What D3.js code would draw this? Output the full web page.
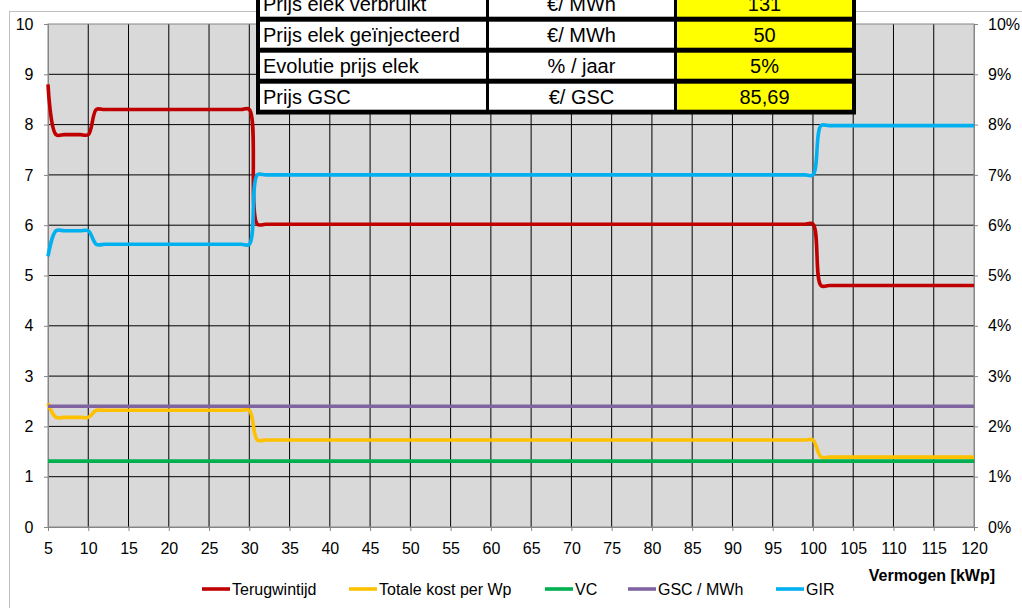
<!DOCTYPE html>
<html><head><meta charset="utf-8">
<script src="https://cdn.jsdelivr.net/npm/d3@7"></script>
<style>
html,body{margin:0;padding:0;background:#fff;overflow:hidden;}
svg{display:block;font-family:"Liberation Sans",Arial,sans-serif;}
</style></head><body>
<svg id="chart" width="1022" height="608"></svg>
<script>
// ---------- DATA ----------
const kWp = [5,
  6,7,8,9,10,
  11,12,13,14,15,16,17,18,19,20,21,22,23,24,25,26,27,28,29,30,
  31,32,33,34,35,36,37,38,39,40,41,42,43,44,45,46,47,48,49,50,
  51,52,53,54,55,56,57,58,59,60,61,62,63,64,65,66,67,68,69,70,
  71,72,73,74,75,76,77,78,79,80,81,82,83,84,85,86,87,88,89,90,
  91,92,93,94,95,96,97,98,99,100,
  101,102,103,104,105,106,107,108,109,110,111,112,113,114,115,116,117,118,119,120];

const terugwintijd = [8.8,
  7.8,7.8,7.8,7.8,7.8,
  8.3,8.3,8.3,8.3,8.3,8.3,8.3,8.3,8.3,8.3,8.3,8.3,8.3,8.3,8.3,8.3,8.3,8.3,8.3,8.3,
  6.02,6.02,6.02,6.02,6.02,6.02,6.02,6.02,6.02,6.02,6.02,6.02,6.02,6.02,6.02,6.02,6.02,6.02,6.02,6.02,
  6.02,6.02,6.02,6.02,6.02,6.02,6.02,6.02,6.02,6.02,6.02,6.02,6.02,6.02,6.02,6.02,6.02,6.02,6.02,6.02,
  6.02,6.02,6.02,6.02,6.02,6.02,6.02,6.02,6.02,6.02,6.02,6.02,6.02,6.02,6.02,6.02,6.02,6.02,6.02,6.02,
  6.02,6.02,6.02,6.02,6.02,6.02,6.02,6.02,6.02,6.02,
  4.8,4.8,4.8,4.8,4.8,4.8,4.8,4.8,4.8,4.8,4.8,4.8,4.8,4.8,4.8,4.8,4.8,4.8,4.8,4.8];

const totaleKost = [2.46,
  2.18,2.18,2.18,2.18,2.18,
  2.32,2.32,2.32,2.32,2.32,2.32,2.32,2.32,2.32,2.32,2.32,2.32,2.32,2.32,2.32,2.32,2.32,2.32,2.32,2.32,
  1.73,1.73,1.73,1.73,1.73,1.73,1.73,1.73,1.73,1.73,1.73,1.73,1.73,1.73,1.73,1.73,1.73,1.73,1.73,1.73,
  1.73,1.73,1.73,1.73,1.73,1.73,1.73,1.73,1.73,1.73,1.73,1.73,1.73,1.73,1.73,1.73,1.73,1.73,1.73,1.73,
  1.73,1.73,1.73,1.73,1.73,1.73,1.73,1.73,1.73,1.73,1.73,1.73,1.73,1.73,1.73,1.73,1.73,1.73,1.73,1.73,
  1.73,1.73,1.73,1.73,1.73,1.73,1.73,1.73,1.73,1.73,
  1.39,1.39,1.39,1.39,1.39,1.39,1.39,1.39,1.39,1.39,1.39,1.39,1.39,1.39,1.39,1.39,1.39,1.39,1.39,1.39];

const vc = [1.31,
  1.31,1.31,1.31,1.31,1.31,
  1.31,1.31,1.31,1.31,1.31,1.31,1.31,1.31,1.31,1.31,1.31,1.31,1.31,1.31,1.31,1.31,1.31,1.31,1.31,1.31,
  1.31,1.31,1.31,1.31,1.31,1.31,1.31,1.31,1.31,1.31,1.31,1.31,1.31,1.31,1.31,1.31,1.31,1.31,1.31,1.31,
  1.31,1.31,1.31,1.31,1.31,1.31,1.31,1.31,1.31,1.31,1.31,1.31,1.31,1.31,1.31,1.31,1.31,1.31,1.31,1.31,
  1.31,1.31,1.31,1.31,1.31,1.31,1.31,1.31,1.31,1.31,1.31,1.31,1.31,1.31,1.31,1.31,1.31,1.31,1.31,1.31,
  1.31,1.31,1.31,1.31,1.31,1.31,1.31,1.31,1.31,1.31,
  1.31,1.31,1.31,1.31,1.31,1.31,1.31,1.31,1.31,1.31,1.31,1.31,1.31,1.31,1.31,1.31,1.31,1.31,1.31,1.31];

const gscPerMWh = [2.4,
  2.4,2.4,2.4,2.4,2.4,
  2.4,2.4,2.4,2.4,2.4,2.4,2.4,2.4,2.4,2.4,2.4,2.4,2.4,2.4,2.4,2.4,2.4,2.4,2.4,2.4,
  2.4,2.4,2.4,2.4,2.4,2.4,2.4,2.4,2.4,2.4,2.4,2.4,2.4,2.4,2.4,2.4,2.4,2.4,2.4,2.4,
  2.4,2.4,2.4,2.4,2.4,2.4,2.4,2.4,2.4,2.4,2.4,2.4,2.4,2.4,2.4,2.4,2.4,2.4,2.4,2.4,
  2.4,2.4,2.4,2.4,2.4,2.4,2.4,2.4,2.4,2.4,2.4,2.4,2.4,2.4,2.4,2.4,2.4,2.4,2.4,2.4,
  2.4,2.4,2.4,2.4,2.4,2.4,2.4,2.4,2.4,2.4,
  2.4,2.4,2.4,2.4,2.4,2.4,2.4,2.4,2.4,2.4,2.4,2.4,2.4,2.4,2.4,2.4,2.4,2.4,2.4,2.4];

// GIR in percent (secondary axis)
const gir = [5.38,
  5.89,5.89,5.89,5.89,5.89,
  5.62,5.62,5.62,5.62,5.62,5.62,5.62,5.62,5.62,5.62,5.62,5.62,5.62,5.62,5.62,5.62,5.62,5.62,5.62,5.62,
  7.0,7.0,7.0,7.0,7.0,7.0,7.0,7.0,7.0,7.0,7.0,7.0,7.0,7.0,7.0,7.0,7.0,7.0,7.0,7.0,
  7.0,7.0,7.0,7.0,7.0,7.0,7.0,7.0,7.0,7.0,7.0,7.0,7.0,7.0,7.0,7.0,7.0,7.0,7.0,7.0,
  7.0,7.0,7.0,7.0,7.0,7.0,7.0,7.0,7.0,7.0,7.0,7.0,7.0,7.0,7.0,7.0,7.0,7.0,7.0,7.0,
  7.0,7.0,7.0,7.0,7.0,7.0,7.0,7.0,7.0,7.0,
  7.98,7.98,7.98,7.98,7.98,7.98,7.98,7.98,7.98,7.98,7.98,7.98,7.98,7.98,7.98,7.98,7.98,7.98,7.98,7.98];

const xTicks = [5,10,15,20,25,30,35,40,45,50,55,60,65,70,75,80,85,90,95,100,105,110,115,120];
const yTicks = [0,1,2,3,4,5,6,7,8,9,10];
const y2Ticks = [0,1,2,3,4,5,6,7,8,9,10];

const seriesNames = ["Terugwintijd","Totale kost per Wp","VC","GSC / MWh","GIR"];
const seriesColors = ["#C00000","#FFC000","#00B050","#8064A2","#00B0F0"];

const tableLabels = ["Prijs elek verbruikt","Prijs elek geïnjecteerd","Evolutie prijs elek","Prijs GSC"];
const tableUnits  = ["€/ MWh","€/ MWh","% / jaar","€/ GSC"];
const tableValues = ["131","50","5%","85,69"];

// ---------- CHART ----------
const svg = d3.select("#chart");
const L = 48, R = 974, T = 24, B = 527;
const x = d3.scaleLinear().domain([5,120]).range([L,R]);
const y = d3.scaleLinear().domain([0,10]).range([B,T]);
const y2 = d3.scaleLinear().domain([0,10]).range([B,T]);

// outer chart border
svg.append("rect").attr("x",9.5).attr("y",11.5).attr("width",1030).attr("height",620)
  .attr("fill","none").attr("stroke","#BFBFBF").attr("stroke-width",1);

// plot area
svg.append("rect").attr("x",L).attr("y",T).attr("width",R-L).attr("height",B-T).attr("fill","#D9D9D9");

// gridlines
const grid = svg.append("g");
grid.selectAll("line.h").data(yTicks.slice(1,-1)).join("line")
  .attr("x1",L).attr("x2",R).attr("y1",d=>y(d)).attr("y2",d=>y(d))
  .attr("stroke","#000").attr("stroke-width",1);
grid.selectAll("line.v").data(xTicks.slice(1,-1)).join("line")
  .attr("y1",T).attr("y2",B).attr("x1",d=>x(d)).attr("x2",d=>x(d))
  .attr("stroke","#000").attr("stroke-width",1);
svg.append("rect").attr("x",L).attr("y",T).attr("width",R-L).attr("height",B-T)
  .attr("fill","none").attr("stroke","#868686").attr("stroke-width",1);

// axes
const fs = "16px";
const axL = svg.append("g").attr("transform",`translate(${L},0)`)
  .call(d3.axisLeft(y).tickValues(yTicks).tickSize(4).tickPadding(10.5).tickFormat(d3.format("d")));
const axR = svg.append("g").attr("transform",`translate(${R},0)`)
  .call(d3.axisRight(y2).tickValues(y2Ticks).tickSize(4).tickPadding(10).tickFormat(d=>d+"%"));
const axB = svg.append("g").attr("transform",`translate(0,${B})`)
  .call(d3.axisBottom(x).tickValues(xTicks).tickSize(4).tickPadding(12).tickFormat(d3.format("d")));
[axL,axR,axB].forEach(a=>{
  a.select(".domain").attr("stroke","#868686");
  a.selectAll(".tick line").attr("stroke","#868686");
  a.selectAll("text").attr("font-size",fs).attr("fill","#000")
    .attr("font-family","'Liberation Sans',Arial,sans-serif");
});

// lines
const line = d3.line().x((d,i)=>x(kWp[i])).y(d=>y(d)).curve(d3.curveCatmullRom);
const line2 = d3.line().x((d,i)=>x(kWp[i])).y(d=>y2(d)).curve(d3.curveCatmullRom);
const primary = [terugwintijd,totaleKost,vc,gscPerMWh];
primary.forEach((s,i)=>{
  svg.append("path").attr("d",line(s)).attr("fill","none")
    .attr("stroke",seriesColors[i]).attr("stroke-width",3.6).attr("stroke-linejoin","round");
});
svg.append("path").attr("d",line2(gir)).attr("fill","none")
  .attr("stroke",seriesColors[4]).attr("stroke-width",3.6).attr("stroke-linejoin","round");

// axis title
svg.append("text").attr("x",995).attr("y",581).attr("text-anchor","end")
  .attr("font-size","16px").attr("font-weight","bold").text("Vermogen [kWp]");

// legend
const legX = [202,349,545,628,776];
const lg = svg.append("g");
seriesNames.forEach((n,i)=>{
  lg.append("line").attr("x1",legX[i]).attr("x2",legX[i]+28).attr("y1",589).attr("y2",589)
    .attr("stroke",seriesColors[i]).attr("stroke-width",3.6);
  lg.append("text").attr("x",legX[i]+30).attr("y",594.5).attr("font-size",fs).text(n);
});

// data table
const tb = svg.append("g");
const tL = 256, tR = 856, tTop = -14, tBot = 114.5;
tb.append("rect").attr("x",tL).attr("y",tTop).attr("width",tR-tL).attr("height",tBot-tTop).attr("fill","#000");
const colX = [[260,486],[489,674],[677,852]];
tableLabels.forEach((lab,i)=>{
  const top = -9.3 + 31*i, h = 26;
  colX.forEach((c,j)=>{
    tb.append("rect").attr("x",c[0]).attr("y",top).attr("width",c[1]-c[0]).attr("height",h)
      .attr("fill", j===2 ? "#FFFF00" : "#FFFFFF");
  });
  tb.append("text").attr("x",263).attr("y",top+20.3).attr("font-size","20px").text(lab);
  tb.append("text").attr("x",(colX[1][0]+colX[1][1])/2).attr("y",top+20.3).attr("font-size","20px")
    .attr("text-anchor","middle").text(tableUnits[i]);
  tb.append("text").attr("x",(colX[2][0]+colX[2][1])/2).attr("y",top+20.3).attr("font-size","20px")
    .attr("text-anchor","middle").text(tableValues[i]);
});
</script>
</body></html>
